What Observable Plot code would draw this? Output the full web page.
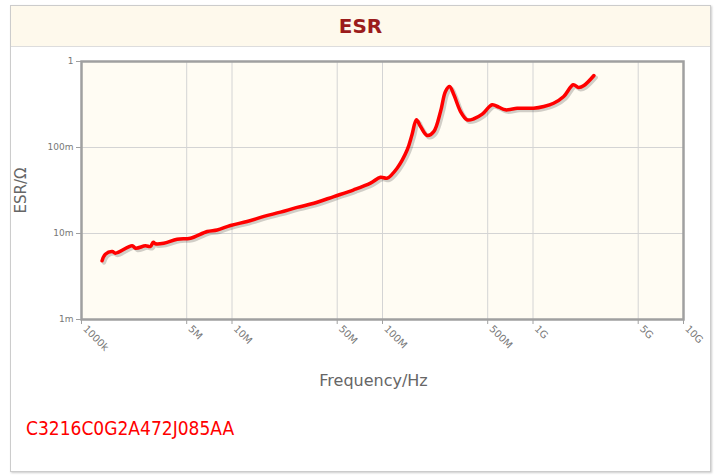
<!DOCTYPE html>
<html>
<head>
<meta charset="utf-8">
<script src="https://cdn.jsdelivr.net/npm/d3@7"></script>
<script src="https://cdn.jsdelivr.net/npm/@observablehq/plot@0.6"></script>
<style>
  html, body { margin: 0; padding: 0; background: #fff; }
  #box { position: absolute; left: 10px; top: 5px; width: 699px; height: 465px; border: 1px solid #ccc; box-shadow: 1px 1px 2px #ccc; background: #fff; }
  #title { height: 40px; line-height: 40px; text-align: center; background: #fef9ec; border-bottom: 1px solid #ddd; font-family: "DejaVu Sans", sans-serif; font-weight: bold; font-size: 20px; color: #9b1c1c; }
  #chart { position: absolute; left: 0; top: 41px; }
  #caption { position: absolute; left: 15px; top: 411px; font-family: "DejaVu Sans Condensed", "DejaVu Sans", sans-serif; font-size: 19px; color: #ff0000; }
</style>
</head>
<body>
<div id="box">
  <div id="title">ESR</div>
  <div id="chart"></div>
  <div id="caption">C3216C0G2A472J085AA</div>
</div>
<script>
// Data
const freqHz = [1.37e6, 1.44e6, 1.60e6, 1.68e6, 2.17e6, 2.29e6, 2.66e6, 2.87e6, 3.0e6, 3.1e6, 3.52e6, 4.32e6, 5.3e6, 6.84e6, 7.97e6, 9.77e6, 12.6e6, 16.3e6, 21.0e6, 27.1e6, 35.0e6, 47.5e6, 64.4e6, 83.2e6, 97e6, 107.5e6, 125e6, 146e6, 157e6, 168e6, 179e6, 198e6, 219e6, 243e6, 262e6, 279e6, 298e6, 330e6, 365e6, 405e6, 460e6, 535e6, 593e6, 657e6, 785e6, 869e6, 1.01e9, 1.18e9, 1.37e9, 1.60e9, 1.85e9, 2.01e9, 2.18e9, 2.54e9];
const esrOhm = [4.82e-3, 5.74e-3, 6.18e-3, 5.90e-3, 7.19e-3, 6.75e-3, 7.19e-3, 7.06e-3, 7.92e-3, 7.59e-3, 7.71e-3, 8.58e-3, 8.82e-3, 1.055e-2, 1.10e-2, 1.24e-2, 1.38e-2, 1.58e-2, 1.77e-2, 2.01e-2, 2.25e-2, 2.69e-2, 3.22e-2, 3.85e-2, 4.51e-2, 4.40e-2, 5.74e-2, 9.40e-2, 0.1405, 0.210, 0.175, 0.138, 0.153, 0.262, 0.448, 0.512, 0.410, 0.262, 0.210, 0.216, 0.244, 0.314, 0.294, 0.274, 0.286, 0.286, 0.286, 0.300, 0.327, 0.392, 0.536, 0.499, 0.526, 0.687];
const xTicks = [1e6, 5e6, 1e7, 5e7, 1e8, 5e8, 1e9, 5e9, 1e10];
const xTickLabels = ["1000k", "5M", "10M", "50M", "100M", "500M", "1G", "5G", "10G"];
const yTicks = [1e-3, 1e-2, 1e-1, 1];
const yTickLabels = ["1m", "10m", "100m", "1"];
const xLabel = "Frequency/Hz";
const yLabel = "ESR/\u03A9";

const data = freqHz.map((f, i) => ({f, esr: esrOhm[i]}));
const xTickData = xTicks.map((t, i) => ({t, label: xTickLabels[i]}));
const yFmt = new Map(yTicks.map((t, i) => [t, yTickLabels[i]]));

const chart = Plot.plot({
  width: 699,
  height: 365,
  marginLeft: 70,
  marginRight: 27,
  marginTop: 14,
  marginBottom: 93,
  x: {type: "log", domain: [1e6, 1e10]},
  y: {type: "log", domain: [1e-3, 1]},
  style: {fontFamily: "DejaVu Sans", fontSize: "9px", color: "#777", background: "transparent"},
  marks: [
    Plot.frame({fill: "#fffcf3"}),
    Plot.gridX(xTicks, {stroke: "#d4d4d4", strokeOpacity: 1}),
    Plot.gridY(yTicks, {stroke: "#d4d4d4", strokeOpacity: 1}),
    Plot.frame({stroke: "#a0a0a0", strokeWidth: 2.5}),
    Plot.axisX(xTicks, {tickFormat: () => "", tickSize: 5, stroke: "#a0a0a0", label: null}),
    Plot.text(xTickData, {x: "t", text: "label", frameAnchor: "bottom", rotate: 45, textAnchor: "start", dx: 1, dy: 10, fontSize: 10, fill: "#777"}),
    Plot.axisY(yTicks, {tickFormat: d => yFmt.get(d), tickSize: 5, stroke: "#a0a0a0", label: null, tickPadding: 3}),
    Plot.line(data, {x: "f", y: "esr", curve: "catmull-rom", stroke: "#000", strokeOpacity: 0.18, strokeWidth: 4, dx: 2, dy: 2}),
    Plot.line(data, {x: "f", y: "esr", curve: "catmull-rom", stroke: "#ff0000", strokeWidth: 3.5}),
    Plot.text([xLabel], {frameAnchor: "bottom", dx: -9, dy: 66, fontSize: 16, fill: "#666"}),
    Plot.text([yLabel], {frameAnchor: "left", textAnchor: "middle", dx: -60, rotate: -90, fontSize: 15, fill: "#666"})
  ]
});
document.getElementById("chart").appendChild(chart);
</script>
</body>
</html>
